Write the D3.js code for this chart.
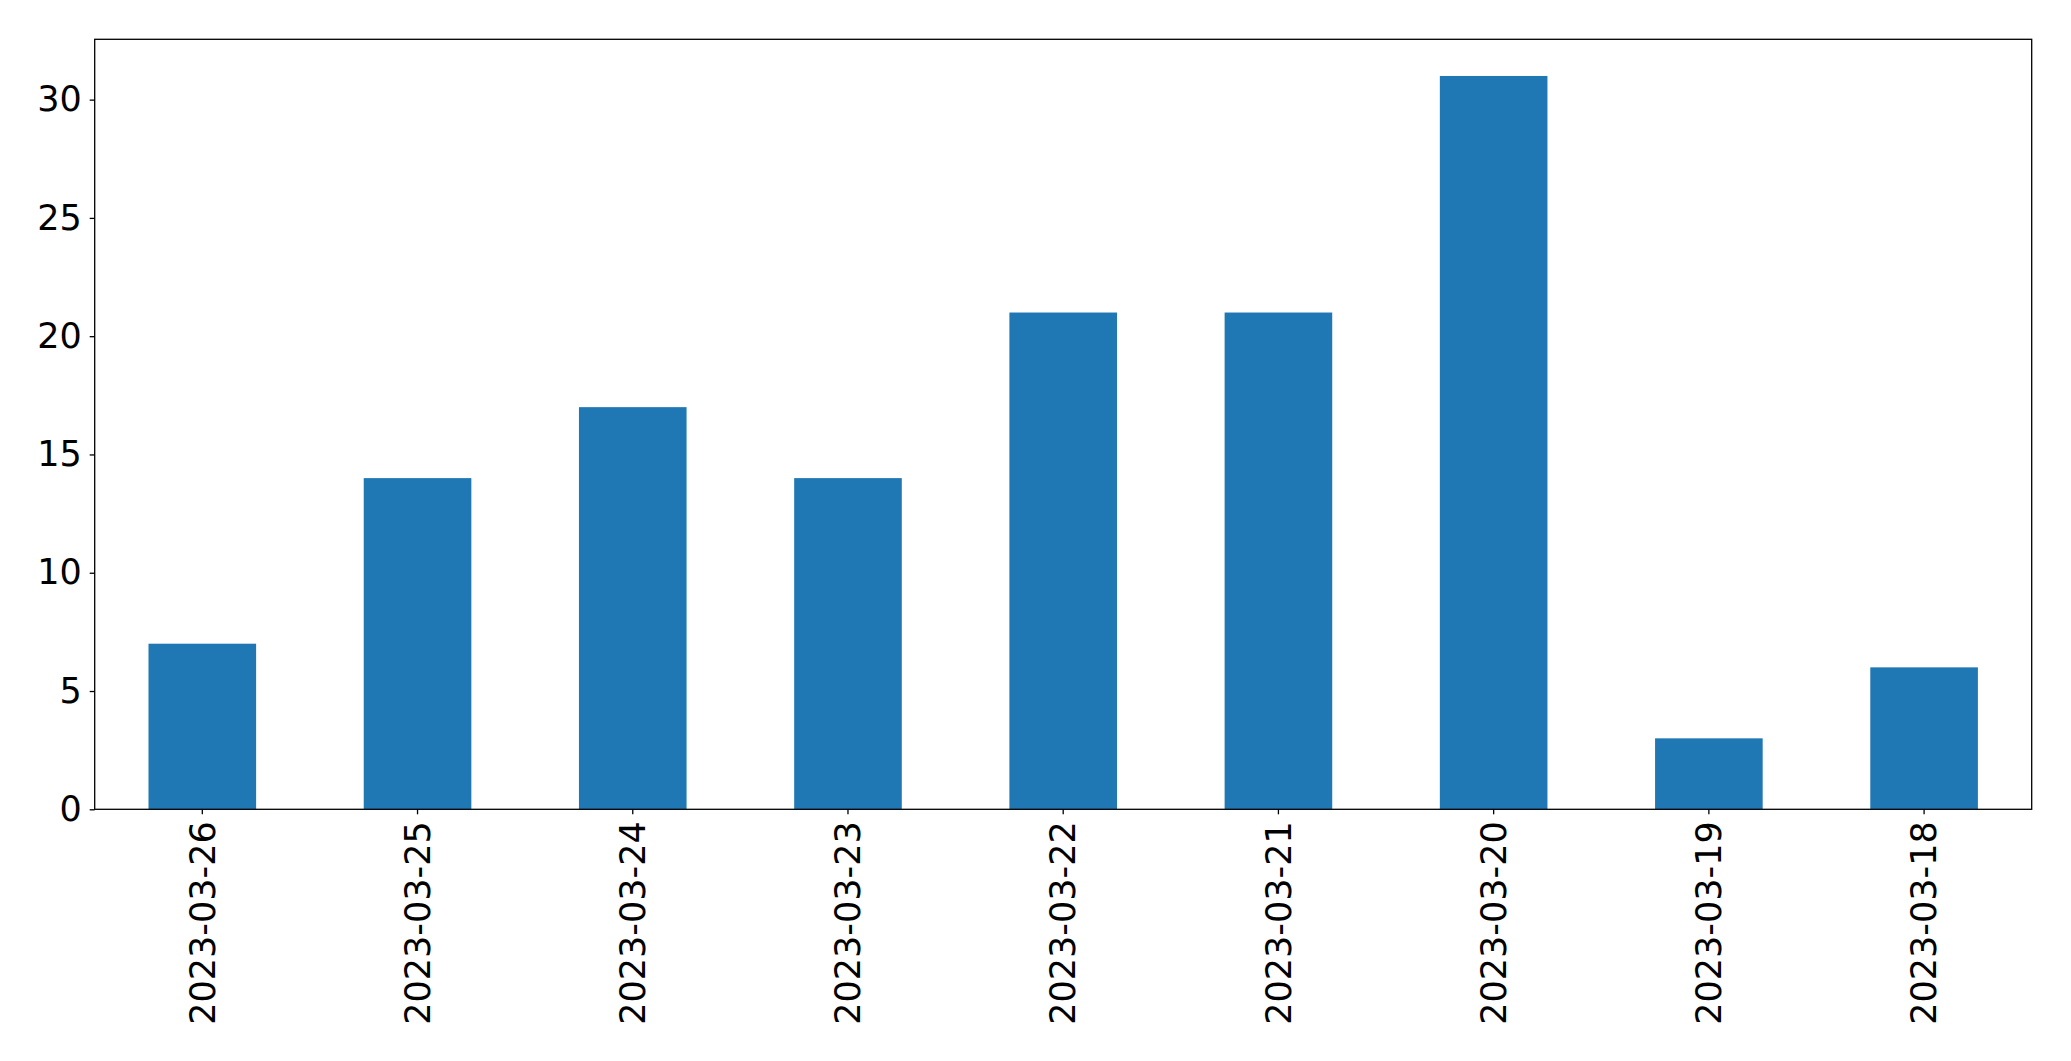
<!DOCTYPE html>
<html><head><meta charset="utf-8">
<script src="https://cdn.jsdelivr.net/npm/d3@7"></script>
<style>body{margin:0;background:#fff}svg{display:block}</style>
</head><body>
<script>
const categories = ["2023-03-26","2023-03-25","2023-03-24","2023-03-23","2023-03-22","2023-03-21","2023-03-20","2023-03-19","2023-03-18"];
const values = [7,14,17,14,21,21,31,3,6];
const yTicks = [0,5,10,15,20,25,30];

const W = 2071, H = 1061;
const m = {left: 94.7, top: 39.3, right: 2071 - 2031.7, bottom: 1061 - 809.3};
const svg = d3.select("body").append("svg").attr("width", W).attr("height", H);
const x = d3.scaleBand().domain(categories).range([m.left, W - m.right]).paddingInner(0.5).paddingOuter(0.25);
const y = d3.scaleLinear().domain([0, d3.max(values) * 1.05]).range([H - m.bottom, m.top]);

svg.append("g").selectAll("rect").data(values).join("rect")
  .attr("x", (d, i) => x(categories[i]))
  .attr("width", x.bandwidth())
  .attr("y", d => y(d))
  .attr("height", d => y(0) - y(d))
  .attr("fill", "#1f77b4");

const font = "'DejaVu Sans', sans-serif";
const yAxis = svg.append("g").attr("transform", `translate(${m.left},0)`)
  .call(d3.axisLeft(y).tickValues(yTicks).tickSize(5).tickPadding(8));
yAxis.select(".domain").remove();
yAxis.selectAll("text").attr("font-size", 35).attr("font-family", font).attr("fill", "#000");
yAxis.selectAll("line").attr("stroke", "#000").attr("stroke-width", 1.3);

const xAxis = svg.append("g").attr("transform", `translate(0,${H - m.bottom})`)
  .call(d3.axisBottom(x).tickSize(5).tickPadding(0));
xAxis.select(".domain").remove();
xAxis.selectAll("line").attr("stroke", "#000").attr("stroke-width", 1.3);
xAxis.selectAll("text").attr("font-size", 35).attr("font-family", font).attr("fill", "#000")
  .attr("transform", "rotate(-90)").attr("text-anchor", "end")
  .attr("x", -12).attr("y", 0).attr("dy", "0.35em");

svg.append("rect").attr("x", m.left).attr("y", m.top)
  .attr("width", W - m.left - m.right).attr("height", H - m.top - m.bottom)
  .attr("fill", "none").attr("stroke", "#000").attr("stroke-width", 1.3);
</script>
</body></html>
